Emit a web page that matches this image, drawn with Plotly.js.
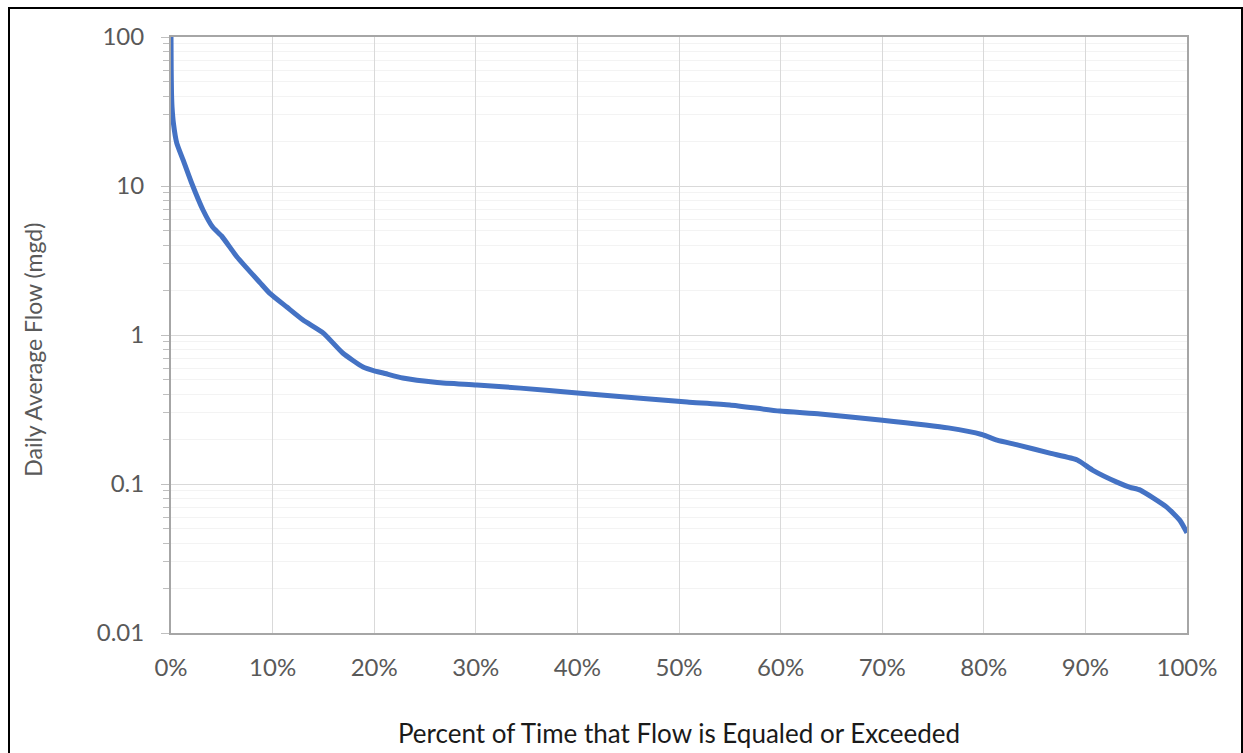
<!DOCTYPE html>
<html>
<head>
<meta charset="utf-8">
<script src="https://cdn.plot.ly/plotly-3.0.1.min.js"></script>
<style>
  html, body { margin: 0; padding: 0; background: #fff; }
  #chart { width: 1243px; height: 753px; }
  #frame { position: absolute; left: 8px; top: 7px; width: 1231px; height: 760px; border: 2px solid #000; pointer-events: none; }
</style>
</head>
<body>
<div id="chart"></div>
<div id="frame"></div>
<script>
// Percent of time flow is equaled or exceeded (%)
const exceedPct = [0, 0.02, 0.05, 0.1, 0.25, 0.56, 1.2, 2.0, 3.15, 4.1, 5.0, 6.5, 8.8, 9.7, 11.4, 13.0, 15.0, 16.9, 18.9, 20.0, 20.9, 22.8, 26.2, 30.1, 34.4, 40.0, 45.9, 50.8, 55.0, 59.9, 63.9, 69.8, 76.5, 79.8, 81.3, 83.3, 86.5, 89.2, 90.7, 93.1, 94.4, 95.4, 98.0, 99.3, 100];
// Daily average flow (mgd)
const flowMgd = [100, 60, 42, 34, 26, 19.5, 14.9, 10.6, 6.9, 5.3, 4.6, 3.34, 2.23, 1.91, 1.54, 1.26, 1.03, 0.757, 0.61, 0.575, 0.556, 0.514, 0.48, 0.462, 0.44, 0.408, 0.378, 0.355, 0.339, 0.309, 0.295, 0.269, 0.238, 0.215, 0.197, 0.183, 0.161, 0.145, 0.124, 0.103, 0.095, 0.091, 0.070, 0.057, 0.047];

const xTickVals = [0, 10, 20, 30, 40, 50, 60, 70, 80, 90, 100];
const xTickText = ["0%", "10%", "20%", "30%", "40%", "50%", "60%", "70%", "80%", "90%", "100%"];
const yTickVals = [0.01, 0.1, 1, 10, 100];
const yTickText = ["0.01", "0.1", "1", "10", "100"];
const minorDigits = [2, 3, 4, 5, 6, 7, 8, 9];

const yMinorVals = [];
yTickVals.slice(0, -1).forEach(d => minorDigits.forEach(m => yMinorVals.push(d * m)));

const fontFam = "Lato, 'Open Sans', sans-serif";

Plotly.newPlot("chart", [{
  x: exceedPct,
  y: flowMgd,
  type: "scatter",
  mode: "lines",
  line: { color: "#4472C4", width: 5, shape: "spline", smoothing: 0.5 },
  hoverinfo: "skip"
}], {
  width: 1243,
  height: 753,
  paper_bgcolor: "#fff",
  plot_bgcolor: "#fff",
  margin: { l: 171, r: 56, t: 37, b: 120 },
  showlegend: false,
  font: { family: fontFam, color: "#595959", size: 24 },
  xaxis: {
    range: [0, 100],
    tickvals: xTickVals,
    ticktext: xTickText,
    showgrid: true,
    gridcolor: "#d9d9d9",
    gridwidth: 1,
    zeroline: false,
    showline: true,
    linecolor: "#a6a6a6",
    linewidth: 2,
    mirror: true,
    ticks: "",
    ticklabelstandoff: 12,
    tickfont: { family: fontFam, size: 24, color: "#595959" },
    title: { text: "Percent of Time that Flow is Equaled or Exceeded", font: { family: fontFam, size: 26, color: "#1a1a1a" }, standoff: 45 }
  },
  yaxis: {
    type: "log",
    range: [-2, 2],
    tickvals: yTickVals,
    ticktext: yTickText,
    showgrid: true,
    gridcolor: "#d9d9d9",
    gridwidth: 1,
    zeroline: false,
    showline: true,
    linecolor: "#a6a6a6",
    linewidth: 2,
    mirror: true,
    ticks: "outside",
    ticklen: 8,
    tickcolor: "#bfbfbf",
    ticklabelstandoff: 12,
    tickfont: { family: fontFam, size: 24, color: "#595959" },
    minor: { tickmode: "array", tickvals: yMinorVals, ticks: "outside", ticklen: 6, tickcolor: "#bfbfbf", showgrid: true, gridcolor: "#f3f3f3", gridwidth: 1 }
  },
  annotations: [{
    text: "Daily Average Flow (mgd)",
    xref: "paper", yref: "paper",
    x: -0.136, y: 0.475,
    xanchor: "center", yanchor: "middle",
    textangle: -90,
    showarrow: false,
    font: { family: fontFam, size: 23, color: "#595959" }
  }]
}, { staticPlot: true });
</script>
</body>
</html>
